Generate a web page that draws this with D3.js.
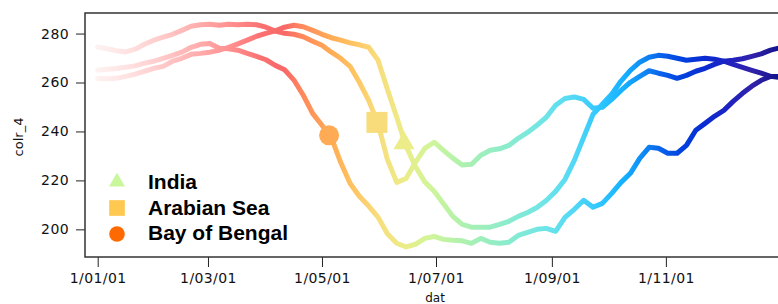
<!doctype html>
<html>
<head>
<script src="https://cdn.jsdelivr.net/npm/d3@7"></script>
<style>
body { margin: 0; background: #fff; }
text { font-family: "DejaVu Sans", sans-serif; }
.legend text { font-family: "Liberation Sans", Arial, sans-serif; font-weight: bold; font-size: 21px; }
</style>
</head>
<body>
<svg id="chart" width="778" height="304"></svg>
<script>
// day of year (2001), every 5 days
var days = [0,5,10,15,20,25,30,35,40,45,50,55,60,65,70,75,80,85,90,95,
  100,105,110,115,120,125,130,135,140,145,150,155,160,165,170,175,180,185,190,195,
  200,205,210,215,220,225,230,235,240,245,250,255,260,265,270,275,280,285,290,295,
  300,305,310,315,320,325,330,335,340,345,350,355,360,365];

var india = [261.6,261.5,261.7,262.5,263.4,264.6,265.8,266.6,268.7,269.9,271.5,271.9,272.4,273.2,274.4,275.8,277.3,278.9,280.1,281.1,
  282.6,283.4,282.8,281.3,279.7,278.3,277.3,276.2,275.4,274.4,269.1,257.2,245.8,234.0,225.7,219.4,215.6,210.5,205.3,202.0,
  200.9,200.9,200.9,202.0,203.3,205.3,206.9,208.9,211.8,215.5,220.4,228.2,237.6,247.0,251.1,255.2,260.6,265.0,268.3,270.3,
  271.1,270.7,269.9,269.1,269.5,269.9,269.5,268.7,267.4,266.2,265.0,263.8,262.5,262.1];

var arabian = [274.5,273.8,273.0,272.5,273.6,275.6,277.3,278.5,279.7,281.3,283.0,283.6,283.8,283.4,283.8,283.6,283.8,283.6,282.6,281.0,
  280.1,279.7,278.7,276.9,275.2,272.4,269.9,266.6,260.1,252.7,243.2,228.6,219.2,220.8,227.4,233.1,235.6,232.3,229.1,226.3,
  226.6,230.3,232.3,232.9,234.3,237.2,239.6,242.5,245.8,250.7,253.5,254.1,253.1,249.5,249.9,253.1,256.8,260.1,262.5,264.8,
  263.8,262.9,261.7,262.9,264.6,265.8,267.4,268.7,269.1,269.7,270.7,271.7,273.2,274.2];

var bengal = [265.0,265.4,265.7,266.2,266.8,267.9,268.7,269.9,271.1,272.4,274.4,275.6,275.9,274.0,273.8,273.2,271.9,270.7,269.3,267.0,
  265.2,261.0,254.8,247.4,242.5,237.6,227.4,218.8,213.5,209.5,205.0,198.2,194.3,192.8,193.9,196.3,197.1,195.9,195.5,195.3,
  194.3,196.3,194.7,194.3,194.7,197.5,198.8,200.0,200.4,199.2,204.9,208.2,211.9,209.0,210.6,214.7,219.2,222.9,229.0,233.5,
  233.1,231.1,231.1,234.3,240.5,243.3,246.2,248.6,252.3,255.6,258.5,260.9,262.5,262.5];

// onset markers: India, Arabian Sea, Bay of Bengal
var names = ["India", "Arabian Sea", "Bay of Bengal"];
var onsetDays = [163.9, 149.4, 123.8];
var onsetValues = [235.2, 243.7, 238.4];

var yTicks = [200, 220, 240, 260, 280];

// colour along the year
var colourDays = [0,15,30,45,60,75,88,100,110,124,137,149,164,178,192,208,224,240,255,270,282,292,302,312,324,338,350,365];
var colourStops = ["#fdf1f1","#ffe3e3","#ffd0d0","#ffbaba","#ffa2a2","#ff8888","#fa7070","#f86868","#ff8a5c","#ffaa55",
  "#ffc462","#f8dc7c","#ecec88","#d0f59a","#b4f2aa","#9aeebf","#84ead4","#6ce4e8","#52d8f6","#2cc4ff",
  "#14b0ff","#1088f4","#0860ea","#0042e0","#0a2cd2","#1e22c0","#3222aa","#12128a"];
var legendColours = ["#c8f79c", "#ffc850", "#ff6a00"];

var svg = d3.select("#chart");
var plotLeft = 85, plotTop = 13, plotBottom = 257, plotRight = 800;

function dayDate(d) { return new Date(Date.UTC(2001, 0, 1) + d * 864e5); }

var x = d3.scaleUtc()
  .domain([dayDate(0), dayDate(365)])
  .range([97.7, 97.7 + 365 * 1.869]);
var y = d3.scaleLinear().domain([188.7, 288.4]).range([plotBottom, plotTop]);
var colour = d3.scaleLinear().domain(colourDays).range(colourStops);

// gradient along x (colour is a function of date)
var grad = svg.append("defs").append("linearGradient")
  .attr("id", "yearGrad")
  .attr("gradientUnits", "userSpaceOnUse")
  .attr("x1", x(dayDate(0))).attr("x2", x(dayDate(365)))
  .attr("y1", 0).attr("y2", 0);
grad.selectAll("stop").data(colourDays).enter().append("stop")
  .attr("offset", function(d) { return d / 365; })
  .attr("stop-color", function(d, i) { return colourStops[i]; });

// axes
var yAxis = svg.append("g")
  .attr("transform", "translate(" + plotLeft + ",0)")
  .call(d3.axisLeft(y).tickValues(yTicks).tickSize(9).tickPadding(7));
var xAxis = svg.append("g")
  .attr("transform", "translate(0," + plotBottom + ")")
  .call(d3.axisBottom(x).ticks(d3.utcMonth.every(2)).tickFormat(d3.utcFormat("%-d/%m/%y"))
    .tickSize(10).tickPadding(6));
xAxis.selectAll(".tick").filter(function(d) { return d > dayDate(330); }).remove();
[yAxis, xAxis].forEach(function(g) {
  g.select(".domain").remove();
  g.selectAll("line").attr("stroke", "#222");
  g.selectAll("text").attr("fill", "#111")
    .style("font-family", "'DejaVu Sans', sans-serif").style("font-size", "14px")
    .style("letter-spacing", "0.4px");
});

svg.append("rect")
  .attr("x", plotLeft).attr("y", plotTop)
  .attr("width", plotRight - plotLeft).attr("height", plotBottom - plotTop)
  .attr("fill", "none").attr("stroke", "#333").attr("stroke-width", 1.5);

svg.append("text").attr("x", 435).attr("y", 302)
  .attr("text-anchor", "middle").style("font-size", "12px").attr("fill", "#111").text("dat");
svg.append("text").attr("transform", "translate(23,137) rotate(-90)")
  .attr("text-anchor", "middle").style("font-size", "13px").attr("fill", "#111").text("colr_4");

// lines
var line = d3.line()
  .x(function(d, i) { return x(dayDate(days[i])); })
  .y(function(d) { return y(d); });

[bengal, arabian, india].forEach(function(s) {
  svg.append("path").datum(s)
    .attr("d", line)
    .attr("fill", "none")
    .attr("stroke", "url(#yearGrad)")
    .attr("stroke-width", 5)
    .attr("stroke-linejoin", "round")
    .attr("stroke-linecap", "round");
});

// onset markers
var symbols = [d3.symbolTriangle, d3.symbolSquare, d3.symbolCircle];
var plotSizes = [191, 441, 314];
var legendSizes = [111, 246, 191];

names.forEach(function(n, i) {
  svg.append("path")
    .attr("d", d3.symbol().type(symbols[i]).size(plotSizes[i]))
    .attr("transform", "translate(" + x(dayDate(onsetDays[i])) + "," + y(onsetValues[i]) + ")")
    .attr("fill", colour(onsetDays[i]));
});

// legend
var legend = svg.append("g").attr("class", "legend");
names.forEach(function(n, i) {
  var cy = 182 + i * 26;
  legend.append("path")
    .attr("d", d3.symbol().type(symbols[i]).size(legendSizes[i]))
    .attr("transform", "translate(117," + cy + ")")
    .attr("fill", legendColours[i]);
  legend.append("text").attr("x", 148).attr("y", 189 + i * 25.5).attr("fill", "#000").text(n);
});
</script>
</body>
</html>
